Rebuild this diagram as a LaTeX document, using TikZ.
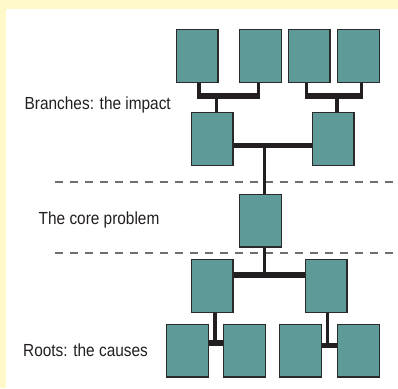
\documentclass[tikz,border=0pt]{standalone}
\usepackage{fontspec}
\newfontfamily\lblfont[FakeStretch=0.88]{Liberation Sans}
\usetikzlibrary{calc}
\definecolor{bgyellow}{HTML}{FFF9C9}
\definecolor{teal1}{HTML}{5E9A97}
\definecolor{boxline}{HTML}{2A2A2A}
\definecolor{conn}{HTML}{231F20}
\definecolor{dashgray}{HTML}{6E6E6E}
\definecolor{labelc}{HTML}{231F20}
\tikzset{
  box/.style={draw=boxline, fill=teal1, line width=1.3pt, minimum width=41.7pt, minimum height=52.7pt, inner sep=0pt},
  stem/.style={draw=conn, line width=3.3pt},
  bar/.style={draw=conn, line width=5.5pt},
  sepline/.style={draw=dashgray, line width=1.5pt, dash pattern=on 7.5pt off 7.5pt},
  lbl/.style={anchor=base west, inner sep=0pt, text=labelc, font=\lblfont\fontsize{17.5}{20}\selectfont}
}
\begin{document}
\begin{tikzpicture}[x=1pt, y=-1pt]
\useasboundingbox (0,0) rectangle (398,388);
\fill[bgyellow] (0,0) rectangle (398,388);
\fill[white] (6,9) rectangle (398,388);

% separators
\draw[sepline] (55,182) -- (398,182);
\draw[sepline] (55,253) -- (398,253);

% labels
\node[lbl] (t1) at (24.5,109) {Branches: the impact};
\node[lbl] (t2) at (38.5,224.5) {The core problem};
\node[lbl] (t3) at (23,356.5) {Roots: the causes};

% boxes
\node[box] (A1) at (197,56) {};
\node[box] (A2) at (260.5,56) {};
\node[box] (A3) at (309,56) {};
\node[box] (A4) at (358.5,56) {};
\node[box] (B1) at (212,139) {};
\node[box] (B2) at (333,139) {};
\node[box] (C)  at (260.5,220.5) {};
\node[box] (D1) at (212,286) {};
\node[box] (D2) at (326,286) {};
\node[box] (E1) at (187.5,350.5) {};
\node[box] (E2) at (244.5,350.5) {};
\node[box] (E3) at (300.5,350.5) {};
\node[box] (E4) at (358.5,350.5) {};

% junction points
\coordinate (jA) at (216.5,96);
\coordinate (jB) at (337,96);
\coordinate (jC) at (264.5,145.5);
\coordinate (jD) at (264.5,275);
\coordinate (jE) at (215,343);
\coordinate (jF) at (327.7,345.7);

% top-left group
\draw[stem] ([xshift=2pt]A1.south) -- ([xshift=2pt]A1.south |- jA);
\draw[stem] ([xshift=-2pt]A2.south) -- ([xshift=-2pt]A2.south |- jA);
\draw[bar] ([xshift=0.4pt]A1.south |- jA) -- ([xshift=-0.4pt]A2.south |- jA);
\draw[stem] (jA) -- (B1.north -| jA);

% top-right group
\draw[stem] ([xshift=-2.3pt]A3.south) -- ([xshift=-2.3pt]A3.south |- jB);
\draw[stem] ([xshift=3.2pt]A4.south) -- ([xshift=3.2pt]A4.south |- jB);
\draw[bar] ([xshift=-4pt]A3.south |- jB) -- ([xshift=4.8pt]A4.south |- jB);
\draw[stem] (jB) -- (B2.north -| jB);

% middle impact bar to core
\draw[bar] (B1.east |- jC) -- (B2.west |- jC);
\draw[stem] (jC) -- (C.north -| jC);

% core to causes
\draw[stem] (C.south -| jD) -- (jD);
\draw[bar] (D1.east |- jD) -- (D2.west |- jD);

% left roots
\draw[stem] (D1.south -| jE) -- (jE);
\draw[bar] (E1.east |- jE) -- (E2.west |- jE);

% right roots
\draw[stem] (D2.south -| jF) -- (jF);
\draw[bar] (E3.east |- jF) -- (E4.west |- jF);
\end{tikzpicture}
\end{document}
